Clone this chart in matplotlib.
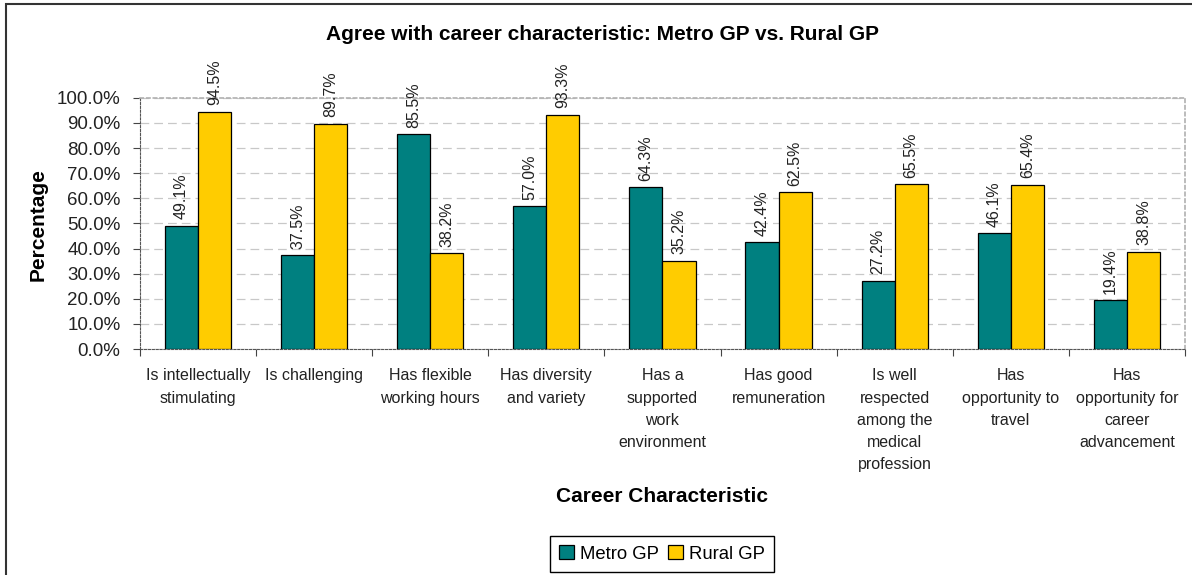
import numpy as np
import matplotlib.pyplot as plt
from matplotlib.patches import Rectangle
from matplotlib.ticker import MultipleLocator, FuncFormatter

plt.rcParams['font.family'] = ['Liberation Sans', 'DejaVu Sans']

categories = ["Is intellectually\nstimulating", "Is challenging",
              "Has flexible\nworking hours", "Has diversity\nand variety",
              "Has a\nsupported\nwork\nenvironment", "Has good\nremuneration",
              "Is well\nrespected\namong the\nmedical\nprofession",
              "Has\nopportunity to\ntravel",
              "Has\nopportunity for\ncareer\nadvancement"]
metro = [49.1, 37.5, 85.5, 57.0, 64.3, 42.4, 27.2, 46.1, 19.4]
rural = [94.5, 89.7, 38.2, 93.3, 35.2, 62.5, 65.5, 65.4, 38.8]

fig = plt.figure(figsize=(11.92, 5.75), dpi=100)
ax = fig.add_axes([0.1174, 0.393, 0.8767, 0.437])

# outer chart frame
fig.patches.append(Rectangle((5.5 / 1192, -0.1), 1.2, 1.1 - 4.5 / 575,
                             transform=fig.transFigure, fill=False,
                             edgecolor='#333333', linewidth=1.5))

x = np.arange(len(categories))
w = 0.285
b1 = ax.bar(x - w / 2, metro, w, color='#008080', edgecolor='black',
            linewidth=0.9, label='Metro GP', zorder=3)
b2 = ax.bar(x + w / 2, rural, w, color='#FFCC00', edgecolor='black',
            linewidth=0.9, label='Rural GP', zorder=3)
for bars in (b1, b2):
    for r in bars:
        v = r.get_height()
        ax.text(r.get_x() + r.get_width() / 2, v + 2.5, f"{v:.1f}%",
                rotation=90, ha='center', va='bottom', fontsize=11.5,
                color='#222222')

ax.set_xlim(-0.5, len(categories) - 0.5)
ax.set_ylim(0, 100)
ax.yaxis.set_major_locator(MultipleLocator(10))
ax.yaxis.set_major_formatter(FuncFormatter(lambda v, p: f"{v:.1f}%"))
ax.grid(axis='y', color='#c8c8c8', linestyle=(0, (7, 4)), linewidth=0.9,
        zorder=0)

ax.set_xticks(np.arange(len(categories) + 1) - 0.5, minor=False)
ax.set_xticklabels([])
ax.set_xticks(x, minor=True)
ax.set_xticklabels(categories, minor=True, fontsize=11.5, linespacing=1.6,
                   color='#222222', va='top')
ax.tick_params(axis='x', which='minor', length=0, pad=14)
ax.tick_params(axis='x', which='major', length=5, direction='out',
               color='#444444')
ax.tick_params(axis='y', labelsize=13.5, length=5, color='#444444',
               labelcolor='#222222', pad=9)

for side in ('top', 'right'):
    ax.spines[side].set_color('#b0b0b0')
    ax.spines[side].set_linestyle((0, (2, 2)))
    ax.spines[side].set_linewidth(1.2)
ax.spines['left'].set_color('#555555')
ax.spines['bottom'].set_color('#555555')
ax.spines['bottom'].set_linestyle((0, (2, 1.5)))
ax.spines['left'].set_linestyle((0, (2, 1.5)))

fig.text(603 / 1192, 1 - 35 / 575, "Agree with career characteristic: Metro GP vs. Rural GP",
         ha='center', va='center', fontsize=15, fontweight='bold')
fig.text(38 / 1192, 1 - 225 / 575, "Percentage", rotation=90, ha='center',
         va='center', fontsize=15, fontweight='bold')
fig.text(662 / 1192, 1 - 497 / 575, "Career Characteristic", ha='center',
         va='center', fontsize=15, fontweight='bold')

fig.legend(loc='center', bbox_to_anchor=(662 / 1192, 1 - 554 / 575), ncol=2,
           fontsize=13.3, frameon=True, fancybox=False, edgecolor='black',
           handlelength=0.8, handleheight=0.8, handletextpad=0.35,
           columnspacing=0.5, borderpad=0.5, framealpha=1)

fig.savefig('out.png', dpi=100)
